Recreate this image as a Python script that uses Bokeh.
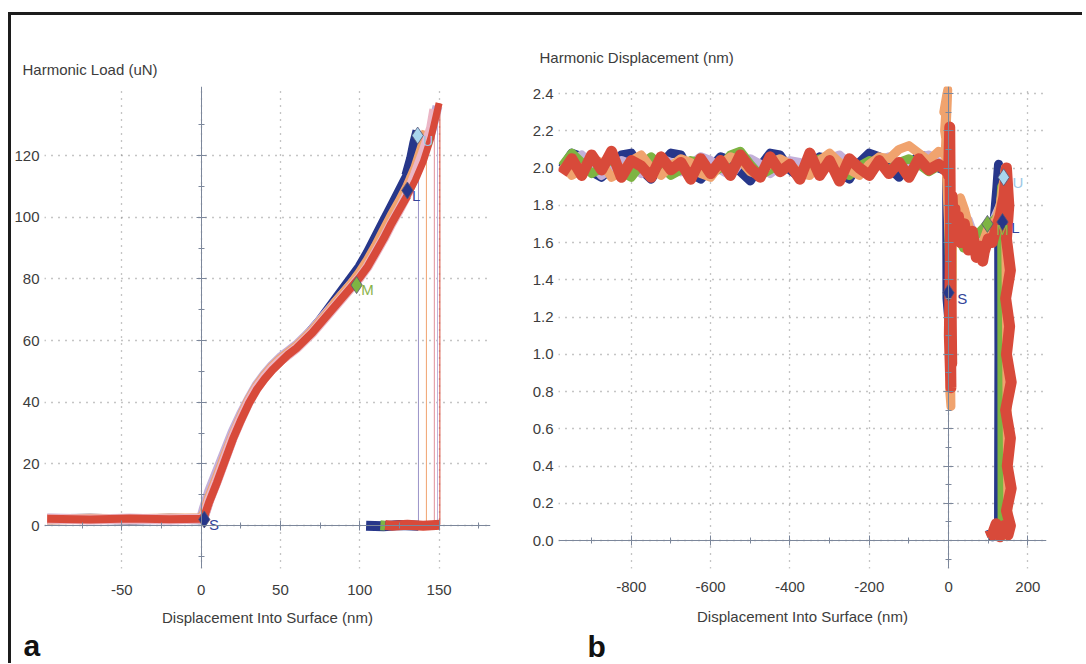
from bokeh.plotting import figure
from bokeh.models import (Range1d, FixedTicker, LinearAxis, Title, CustomJSTickFormatter)
from bokeh.layouts import row
from bokeh.core.properties import value
from bokeh.embed import file_html
from bokeh.resources import INLINE

FONT = "Liberation Sans"
TXT = "#3c3c3c"
AXC = "#7c879b"
GRIDC = "#8a8a8a"
NAVY = "#27378a"; LAV = "#c3b0da"; PINK = "#ebb6c6"; ORANGE = "#f0a36e"
GREEN = "#7db443"; RED = "#d84a3a"; LBLUE = "#a9d6ee"

# ---------------- panel a : Harmonic Load vs displacement ----------------
A_XTICKS = [-50, 0, 50, 100, 150]
A_XMINOR = [-75, -25, 25, 75, 125, 175]
A_YTICKS = [0, 20, 40, 60, 80, 100, 120]
A_YMINOR = [-10, 10, 30, 50, 70, 90, 110, 130]

A_X = [-97, -70, -45, -20, 0, 2, 5, 10, 15, 20, 25, 30, 35, 40, 45, 50, 55, 60,
       65, 70, 75, 80, 85, 90, 95, 100, 105, 110, 115, 120, 125, 130]
A_LAV = [2.3, 2.1, 2.2, 2.0, 2.3, 6.0, 11.0, 17.5, 24.0, 30.5, 36.0, 41.0, 45.5, 49.0,
         52.0, 54.5, 56.5, 58.5, 61.0, 63.5, 66.5, 69.5, 72.5, 75.5, 78.5, 81.5, 85.0,
         89.5, 94.5, 99.5, 104.0, 108.5]
A_BLUE = [2.1, 2.2, 2.0, 2.2, 2.1, 3.5, 8.5, 15.0, 22.0, 29.0, 35.0, 40.5, 45.0, 48.5,
          51.5, 54.0, 56.0, 58.0, 60.5, 63.5, 66.5, 70.0, 73.5, 77.0, 80.5, 84.0, 88.5,
          93.5, 98.5, 103.5, 108.5, 113.5]
A_ORANGE = [2.0, 2.2, 2.1, 2.3, 2.4, 4.0, 9.0, 15.5, 22.5, 29.0, 35.0, 40.5, 45.0, 48.5,
            51.5, 54.0, 56.0, 58.0, 60.5, 63.0, 66.0, 69.0, 72.5, 75.5, 78.5, 82.0, 86.0,
            90.5, 95.5, 100.5, 105.0, 110.0]
A_PINK = [2.2, 2.0, 2.2, 2.1, 2.2, 3.2, 8.0, 14.5, 21.5, 28.5, 34.5, 40.0, 44.5, 48.0,
          51.0, 53.5, 55.5, 57.5, 60.0, 62.5, 65.5, 68.5, 71.5, 74.5, 77.5, 80.5, 84.0,
          88.5, 93.0, 98.0, 102.5, 107.5]
A_RED = [2.2, 2.0, 2.3, 2.1, 2.2, 3.0, 7.5, 14.0, 21.0, 28.0, 34.0, 39.5, 44.0, 47.5,
         50.5, 53.0, 55.5, 57.5, 60.0, 62.5, 65.5, 68.5, 71.5, 74.5, 77.5, 80.5, 84.0,
         88.5, 93.0, 98.0, 102.5, 107.0]

# top of loading, unloading drop and return along zero
A_BLUE_TOP_X = [130, 133, 135, 137];       A_BLUE_TOP_Y = [113.5, 119, 124, 128]
A_BLUE_DROP_X = [137, 137];                A_BLUE_DROP_Y = [128, 0]
A_BLUE_RET_X = [137, 125, 115, 104];       A_BLUE_RET_Y = [0.0, 0.2, -0.2, 0.0]
A_ORANGE_TOP_X = [130, 135, 140, 142];     A_ORANGE_TOP_Y = [110, 116, 124, 128]
A_ORANGE_DROP_X = [142, 142];              A_ORANGE_DROP_Y = [128, 0]
A_PINK_TOP_X = [130, 135, 140, 145, 147];  A_PINK_TOP_Y = [107.5, 114, 121, 129, 135]
A_PINK_DROP_X = [147, 147];                A_PINK_DROP_Y = [135, 0]
A_LAV_TOP_X = [130, 135, 140, 145, 149];   A_LAV_TOP_Y = [108.5, 114.5, 121, 128, 136]
A_LAV_DROP_X = [149, 149];                 A_LAV_DROP_Y = [136, 0]
A_RED_TOP_X = [130, 135, 140, 145, 150];   A_RED_TOP_Y = [107, 112, 118, 126, 137]
A_RED_DROP_X = [150.5, 150.5];             A_RED_DROP_Y = [137, 0.3]
A_GREEN_RET_X = [116, 113];                A_GREEN_RET_Y = [0.0, 0.1]
A_RED_RET_X = [150.5, 140, 130, 120, 116]; A_RED_RET_Y = [0.3, 0.0, 0.3, 0.0, 0.2]

A_MARK_X = [2, 98, 130, 136.5]
A_MARK_Y = [2, 78, 108.7, 126.5]
A_MARK_T = ["S", "M", "L", "U"]
A_MARK_FILL = [NAVY, GREEN, NAVY, LBLUE]
A_MARK_TXT = ["#34449a", "#8ab34a", "#34449a", "#9cc8e6"]

# ---------------- panel b : Harmonic Displacement vs displacement ----------------
B_XTICKS = [-800, -600, -400, -200, 0, 200]
B_XMINOR = [-900, -700, -500, -300, -100, 100]
B_YTICKS = [0.0, 0.2, 0.4, 0.6, 0.8, 1.0, 1.2, 1.4, 1.6, 1.8, 2.0, 2.2, 2.4]
B_YMINOR = [-0.1, 0.1, 0.3, 0.5, 0.7, 0.9, 1.1, 1.3, 1.5, 1.7, 1.9, 2.1, 2.3]

B_X = [-975, -950, -925, -900, -875, -850, -825, -800, -775, -750, -725, -700, -675,
       -650, -625, -600, -575, -550, -525, -500, -475, -450, -425, -400, -375, -350,
       -325, -300, -275, -250, -225, -200, -175, -150, -125, -100, -75, -50, -25, 0]
B_BLUE = [2.00, 2.08, 2.06, 1.98, 1.95, 2.00, 2.07, 2.08, 1.99, 1.94, 2.02, 2.08, 2.07,
          1.97, 1.94, 2.00, 2.06, 2.04, 1.98, 1.93, 2.01, 2.08, 2.07, 1.99, 1.95, 2.02,
          2.06, 2.05, 1.97, 1.94, 2.03, 2.08, 2.06, 2.00, 1.95, 2.01, 2.07, 2.06, 2.00, 1.98]
B_LAV = [1.99, 2.03, 2.07, 2.02, 1.96, 2.00, 2.04, 2.02, 1.97, 2.01, 2.05, 2.03, 1.98,
         2.02, 2.06, 2.04, 1.99, 1.96, 2.03, 2.05, 2.02, 1.97, 2.01, 2.04, 2.03, 1.98,
         2.00, 2.05, 2.07, 2.02, 1.97, 2.01, 2.04, 2.06, 2.02, 1.99, 2.05, 2.07, 2.03, 2.00]
B_GREEN = [2.01, 2.08, 2.03, 1.97, 2.00, 2.05, 1.98, 1.95, 2.02, 2.06, 2.01, 1.96, 1.99,
           2.04, 2.03, 1.97, 2.00, 2.07, 2.09, 2.02, 1.96, 1.99, 2.03, 2.01, 1.97, 2.02,
           2.05, 2.03, 1.98, 1.96, 2.01, 2.04, 2.02, 1.99, 2.03, 2.05, 2.02, 1.98, 2.01, 2.03]
B_ORANGE = [2.02, 1.96, 1.99, 2.05, 2.03, 1.95, 1.98, 2.04, 2.07, 2.00, 1.96, 2.01, 2.05,
            2.03, 1.97, 1.95, 2.02, 2.06, 2.04, 1.98, 1.96, 2.03, 2.05, 2.02, 1.97, 1.96,
            2.04, 2.08, 2.03, 1.99, 1.96, 2.02, 2.06, 2.05, 2.10, 2.12, 2.08, 2.04, 2.09, 2.06]
B_RED = [1.97, 2.05, 1.96, 2.07, 1.99, 2.09, 1.95, 2.04, 2.01, 1.95, 2.06, 1.99, 2.03,
         1.94, 2.05, 1.97, 2.04, 1.96, 2.07, 2.00, 1.95, 2.06, 1.98, 2.02, 1.94, 2.08,
         1.96, 2.04, 1.93, 2.05, 2.00, 1.96, 2.04, 1.97, 2.03, 1.95, 2.05, 1.99, 2.02, 1.97]

# contact region (spike at surface, hump, rise, unloading to zero)
B_BLUE_CX = [0, -5, -4, 0, 5, 10, 20, 40, 60, 80, 100, 115, 122, 126, 127, 126, 118, 110, 103]
B_BLUE_CY = [1.98, 2.15, 1.30, 1.20, 1.75, 1.70, 1.68, 1.66, 1.63, 1.60, 1.65, 1.72, 1.90,
             2.02, 1.00, 0.05, 0.08, 0.02, 0.06]
B_LAV_CX = [0, 2, 4, 8, 15, 30, 50, 70, 90, 110, 130, 140, 144, 145, 135, 120, 110]
B_LAV_CY = [2.00, 2.15, 1.50, 1.65, 1.75, 1.68, 1.72, 1.60, 1.64, 1.70, 1.80, 1.92, 2.00,
            0.04, 0.06, 0.03, 0.05]
B_GREEN_CX = [0, -2, 2, 5, 10, 20, 38, 60, 80, 98, 115, 130, 134, 135, 133, 120, 108]
B_GREEN_CY = [2.01, 2.10, 1.50, 1.00, 1.60, 1.65, 1.57, 1.62, 1.66, 1.70, 1.72, 1.76,
              1.90, 0.05, 0.02, 0.05, 0.03]
B_ORANGE_CX = [0, -10, -4, -12, -2, -8, 2, 6, 3, 8, 10, 20, 30, 40, 50, 60, 70, 80, 90,
               100, 110, 120, 130, 140, 143, 146, 150, 140, 125, 110]
B_ORANGE_CY = [2.06, 2.20, 2.40, 2.30, 2.42, 2.10, 1.60, 0.72, 0.80, 1.20, 1.60, 1.70,
               1.84, 1.78, 1.70, 1.62, 1.58, 1.55, 1.62, 1.68, 1.70, 1.72, 1.80, 1.95,
               2.00, 1.20, 0.03, 0.05, 0.03, 0.05]
B_RED_CX = [0, 3, 5, 2, 6, 4, 8, 5, 9, 12, 16, 20, 25, 30, 40, 50, 60, 70, 80, 86, 90,
            100, 110, 120, 130, 140, 146, 152, 146, 156, 144, 154, 146, 158, 144, 156,
            148, 158, 146, 156, 150, 140, 130, 120, 110, 104]
B_RED_CY = [1.96, 2.22, 1.60, 1.10, 0.82, 1.30, 0.95, 1.55, 1.85, 1.70, 1.78, 1.62, 1.74,
            1.60, 1.70, 1.56, 1.66, 1.52, 1.58, 1.50, 1.55, 1.62, 1.60, 1.68, 1.74, 1.85,
            2.00, 1.80, 1.62, 1.45, 1.30, 1.15, 1.00, 0.85, 0.70, 0.55, 0.40, 0.28, 0.16,
            0.08, 0.03, 0.08, 0.02, 0.09, 0.03, 0.06]

B_MARK_X = [0, 98, 136, 139]
B_MARK_Y = [1.33, 1.70, 1.71, 1.95]
B_MARK_T = ["S", "M", "L", "U"]
B_MARK_FILL = [NAVY, GREEN, NAVY, LBLUE]
B_MARK_TXT = ["#34449a", "#8ab34a", "#34449a", "#9cc8e6"]

INT_FMT = "return tick.toFixed(0);"
DEC_FMT = "return tick.toFixed(1);"


def make_panel(width, height, xr, yr, borders, xt, xm, yt, ym, xstand, lstand_ax, yfmt,
               title, toff, tstand, letter, loff, lstand, lvalign):
    p = figure(width=width, height=height, x_range=Range1d(*xr), y_range=Range1d(*yr),
               output_backend="svg", toolbar_location=None,
               min_border_left=borders[0], min_border_right=borders[1],
               min_border_top=borders[2], min_border_bottom=borders[3])
    p.outline_line_color = None
    p.background_fill_color = "white"
    p.border_fill_color = "white"
    xa = p.xaxis[0]
    ya = p.yaxis[0]
    xa.ticker = FixedTicker(ticks=xt)
    ya.ticker = FixedTicker(ticks=yt)
    xa.formatter = CustomJSTickFormatter(code=INT_FMT)
    ya.formatter = CustomJSTickFormatter(code=yfmt)
    for ax in (xa, ya):
        ax.axis_line_color = None
        ax.major_tick_line_color = None
        ax.minor_tick_line_color = None
        ax.major_tick_in = 0
        ax.major_tick_out = 0
        ax.minor_tick_in = 0
        ax.minor_tick_out = 0
        ax.major_label_text_font = FONT
        ax.major_label_text_font_size = "15px"
        ax.major_label_text_color = TXT
    xa.major_label_standoff = xstand
    ya.major_label_standoff = 5
    xa.axis_label = "Displacement Into Surface (nm)"
    xa.axis_label_text_font = FONT
    xa.axis_label_text_font_style = "normal"
    xa.axis_label_text_font_size = "15px"
    xa.axis_label_text_color = TXT
    xa.axis_label_standoff = lstand_ax
    for g in (p.xgrid[0], p.ygrid[0]):
        g.grid_line_color = GRIDC
        g.grid_line_dash = "1 6"
        g.grid_line_width = 1.3

    # zero-crossing axes drawn by Bokeh at a fixed data location (line + ticks only)
    zx = LinearAxis(fixed_location=0, ticker=FixedTicker(ticks=xt, minor_ticks=xm),
                    axis_line_color=AXC, major_tick_line_color=AXC,
                    minor_tick_line_color=AXC, major_tick_in=5, major_tick_out=5,
                    minor_tick_in=3, minor_tick_out=3, major_label_text_font_size="1px",
                    major_label_text_color=None, major_label_standoff=0)
    zy = LinearAxis(fixed_location=0, ticker=FixedTicker(ticks=yt, minor_ticks=ym),
                    axis_line_color=AXC, major_tick_line_color=AXC,
                    minor_tick_line_color=AXC, major_tick_in=5, major_tick_out=5,
                    minor_tick_in=3, minor_tick_out=3, major_label_text_font_size="1px",
                    major_label_text_color=None, major_label_standoff=0)
    p.add_layout(zx, "above")
    p.add_layout(zy, "right")

    p.title = Title(text=title, align="left", offset=toff, standoff=tstand,
                    text_font=FONT, text_font_size="15px", text_font_style="normal",
                    text_color=TXT)
    p.add_layout(Title(text=letter, align="left", offset=loff, standoff=lstand,
                       vertical_align=lvalign,
                       text_font=FONT, text_font_size="30px", text_font_style="bold",
                       text_color="#111111"), "below")
    return p


# page geometry (frames aligned by the row): a = x 43..490, b = x 558..1046, y 86..568
pa = make_panel(509, 648, (-98.7, 182.4), (-13.9, 142.4), (32, 30, 71, 95),
                A_XTICKS, A_XMINOR, A_YTICKS, A_YMINOR, 16, 11, INT_FMT,
                "Harmonic Load (uN)", -22, 17, "a", -21, 0, "top")

BAND = 10
pa.line(A_X, A_BLUE, line_color=NAVY, line_width=BAND)
pa.line(A_BLUE_TOP_X, A_BLUE_TOP_Y, line_color=NAVY, line_width=BAND + 2)
pa.line(A_BLUE_DROP_X, A_BLUE_DROP_Y, line_color="#9b94c8", line_width=1)
pa.line(A_BLUE_RET_X, A_BLUE_RET_Y, line_color=NAVY, line_width=BAND)
pa.line(A_X, A_LAV, line_color=LAV, line_width=BAND)
pa.line(A_LAV_TOP_X, A_LAV_TOP_Y, line_color=LAV, line_width=BAND)
pa.line(A_LAV_DROP_X, A_LAV_DROP_Y, line_color=LAV, line_width=1)
pa.line(A_X, A_ORANGE, line_color=ORANGE, line_width=BAND)
pa.line(A_ORANGE_TOP_X, A_ORANGE_TOP_Y, line_color=ORANGE, line_width=BAND)
pa.line(A_ORANGE_DROP_X, A_ORANGE_DROP_Y, line_color=ORANGE, line_width=1)
pa.line(A_X, A_PINK, line_color=PINK, line_width=BAND)
pa.line(A_PINK_TOP_X, A_PINK_TOP_Y, line_color=PINK, line_width=BAND)
pa.line(A_PINK_DROP_X, A_PINK_DROP_Y, line_color="#e0909a", line_width=1)
pa.line(A_GREEN_RET_X, A_GREEN_RET_Y, line_color=GREEN, line_width=BAND)
pa.line(A_X, A_RED, line_color=RED, line_width=BAND - 2)
pa.line(A_RED_TOP_X, A_RED_TOP_Y, line_color=RED, line_width=BAND - 3)
pa.line(A_RED_DROP_X, A_RED_DROP_Y, line_color=RED, line_width=1)
pa.line(A_RED_RET_X, A_RED_RET_Y, line_color=RED, line_width=BAND)
pa.scatter(A_MARK_X, A_MARK_Y, marker="diamond", size=17, fill_color=A_MARK_FILL,
           line_color="#555577", line_width=0.8)
pa.text([x + 3 for x in A_MARK_X], [y - 1.5 for y in A_MARK_Y], text=A_MARK_T,
        text_color=A_MARK_TXT, text_font=value(FONT), text_font_size="15px",
        text_baseline="middle")

pb = make_panel(562, 648, (-983.6, 247.0), (-0.1503, 2.4376), (38, 36, 71, 95),
                B_XTICKS, B_XMINOR, B_YTICKS, B_YMINOR, 13, 13, DEC_FMT,
                "Harmonic Displacement (nm)", -19, 42, "b", 29, 0, "bottom")

BW = 9
for xs, ys, cx, cy, col, w in ((B_X, B_BLUE, B_BLUE_CX, B_BLUE_CY, NAVY, BW),
                               (B_X, B_LAV, B_LAV_CX, B_LAV_CY, LAV, BW),
                               (B_X, B_GREEN, B_GREEN_CX, B_GREEN_CY, GREEN, BW),
                               (B_X, B_ORANGE, B_ORANGE_CX, B_ORANGE_CY, ORANGE, BW),
                               (B_X, B_RED, B_RED_CX, B_RED_CY, RED, BW + 2)):
    pb.line(list(xs) + list(cx), list(ys) + list(cy), line_color=col, line_width=w,
            line_join="round")
pb.scatter(B_MARK_X, B_MARK_Y, marker="diamond", size=17, fill_color=B_MARK_FILL,
           line_color="#555577", line_width=0.8)
pb.text([x + 22 for x in B_MARK_X], [y - 0.03 for y in B_MARK_Y], text=B_MARK_T,
        text_color=B_MARK_TXT, text_font=value(FONT), text_font_size="15px",
        text_baseline="middle")

layout = row(pa, pb, margin=(12, 0, 0, 8),
             styles={"border-left": "3px solid #1c1c1c", "border-top": "3px solid #1c1c1c"})

open("out.html", "w").write(file_html(layout, INLINE))
